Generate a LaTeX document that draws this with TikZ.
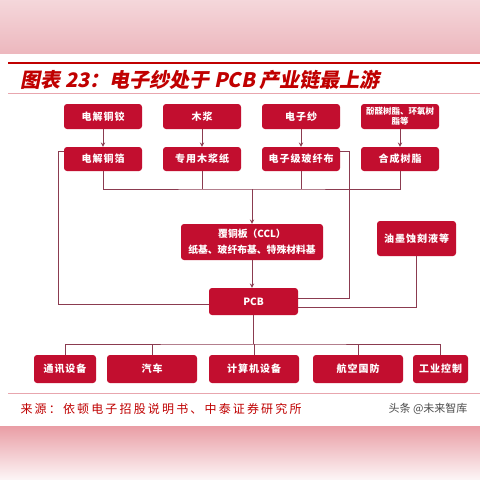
\documentclass[tikz,border=0pt]{standalone}
\usepackage{fontspec}
\newfontfamily\cjk{Noto Sans CJK SC}
\newfontfamily\cjkbox[LetterSpace=10]{Noto Sans CJK SC}
\newfontfamily\cjkwide[LetterSpace=18]{Noto Sans CJK SC}
\newfontfamily\cjkslant[FakeSlant=0.2]{Noto Sans CJK SC}
\usetikzlibrary{positioning,arrows}

\definecolor{boxred}{HTML}{C20E2F}
\definecolor{linered}{HTML}{8B3B50}
\definecolor{titlered}{HTML}{C00000}
\definecolor{rulepink}{HTML}{E8A6AE}

\tikzset{
	chainbox/.style={fill=boxred, rounded corners=3pt, text=white, align=center, inner sep=0pt,
		font=\cjkbox\bfseries\fontsize{10}{15}\selectfont},
	link/.style={draw=linered, line width=0.9pt},
}

\begin{document}
\begin{tikzpicture}[x=1pt, y=-1pt, >=stealth]
			\useasboundingbox (0,0) rectangle (480,480);
			\fill[white] (0,0) rectangle (480,480);
			\shade[top color=rulepink!45, bottom color=rulepink!80] (0,0) rectangle (480,53);
			\shade[top color=rulepink!95!red, bottom color=rulepink!10] (0,426) rectangle (480,480);

			% title and rules
			\draw[titlered, line width=2.5pt] (8,63) -- (480,63);
			\draw[rulepink, line width=0.8pt] (8,93) -- (480,93);
			\node[anchor=west, text=titlered, font=\cjkslant\bfseries\fontsize{20}{22}\selectfont] (title) at (17,80) {图表 23：电子纱处于 PCB 产业链最上游};

			% upstream materials
			\node[chainbox, minimum width=78, minimum height=25] (ingot) at (103,116.5) {电解铜铰};
			\node[chainbox, minimum width=78, minimum height=25] (pulp) at (202,116.5) {木浆};
			\node[chainbox, minimum width=78, minimum height=25] (yarn) at (301,116.5) {电子纱};
			\node[chainbox, minimum width=78, minimum height=25, font=\cjk\bfseries\fontsize{8.5}{10.5}\selectfont] (raw) at (400,116.5) {酚醛树脂、环氧树\\脂等};

			\node[chainbox, minimum width=78, minimum height=24] (foil) at (103,159) {电解铜箔};
			\node[chainbox, minimum width=78, minimum height=24] (paper) at (202,159) {专用木浆纸};
			\node[chainbox, minimum width=78, minimum height=24] (cloth) at (301,159) {电子级玻纤布};
			\node[chainbox, minimum width=78, minimum height=24] (resin) at (400,159) {合成树脂};

			\foreach \a/\b in {ingot/foil, pulp/paper, yarn/cloth, raw/resin}
				\draw[link, ->] (\a) -- (\b);

			% laminate, ink, pcb
			\node[chainbox, minimum width=142, minimum height=36, font=\cjk\bfseries\fontsize{9.8}{16}\selectfont] (ccl) at (252,242) {覆铜板（CCL）\\纸基、玻纤布基、特殊材料基};
			\node[chainbox, minimum width=79, minimum height=35] (ink) at (416.5,238.5) {油墨蚀刻液等};
			\node[chainbox, minimum width=89, minimum height=27, font=\cjk\bfseries\fontsize{10}{12}\selectfont] (pcb) at (253.5,301.5) {PCB};

			\coordinate (j1) at (252,189);
			\draw[link] (foil.south) |- (j1) -| (resin.south);
			\draw[link] (paper.south) -- (paper.south |- j1);
			\draw[link] (cloth.south) -- (cloth.south |- j1);
			\draw[link, ->] (j1) -- (ccl.north);
			\draw[link, ->] (ccl.south) -- (ccl.south |- pcb.north);

			\coordinate (lbend) at (58,304);
			\coordinate (rbend) at (349,298);
			\draw[link] (foil.west |- 0,151) -| (lbend) -- (lbend -| pcb.west);
			\draw[link] (cloth.east |- 0,151) -| (rbend) -- (rbend -| pcb.east);
			\draw[link] (ink.south) |- (pcb.east |- 0,307);

			% applications
			\node[chainbox, minimum width=62, minimum height=28] (comm) at (65,369) {通讯设备};
			\node[chainbox, minimum width=90, minimum height=28] (auto) at (152,369) {汽车};
			\node[chainbox, minimum width=90, minimum height=28] (computer) at (254,369) {计算机设备};
			\node[chainbox, minimum width=90, minimum height=28] (aero) at (358,369) {航空国防};
			\node[chainbox, minimum width=55, minimum height=28] (ctrl) at (440.5,369) {工业控制};

			\coordinate (j2) at (254,344);
			\draw[link] (pcb.south) -- (pcb.south |- j2);
			\draw[link] (comm.north) |- (j2) -| (ctrl.north);
			\foreach \n in {auto, computer, aero}
				\draw[link] (\n.north) -- (\n.north |- j2);

			% source line
			\draw[rulepink, line width=0.8pt] (8,393) -- (480,393);
			\node[anchor=west, text=titlered, font=\cjkwide\fontsize{12}{14}\selectfont] (source) at (17,409) {来源：依顿电子招股说明书、中泰证券研究所};
			\node[anchor=east, text=black!70, font=\cjk\fontsize{11}{13}\selectfont] (mark) at (471,409) {头条 @未来智库};
		\end{tikzpicture}
\end{document}
